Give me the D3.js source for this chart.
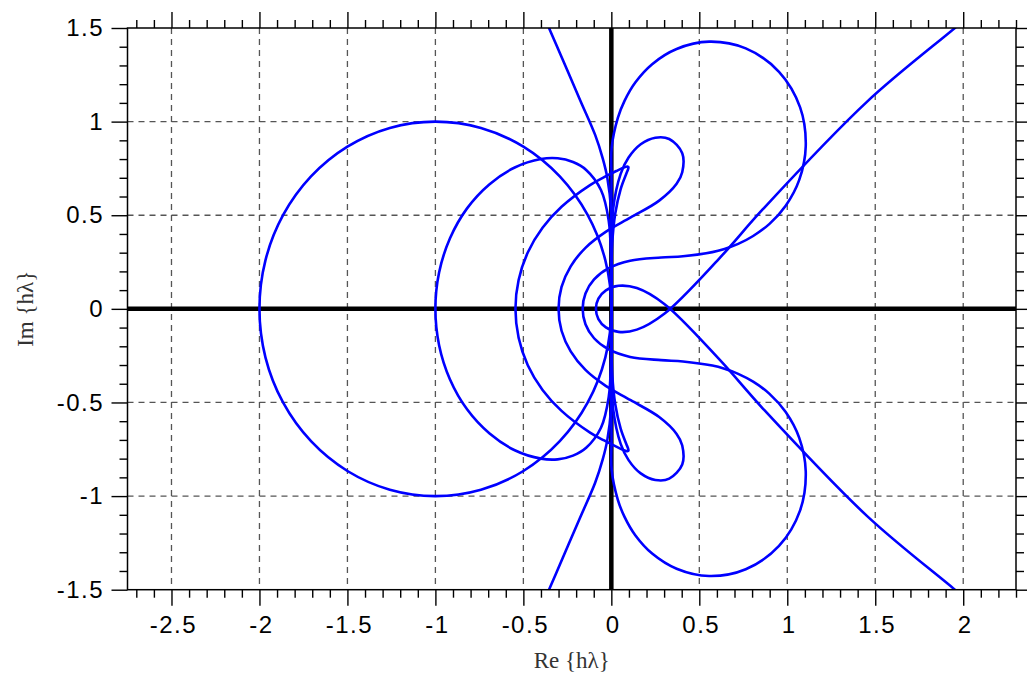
<!DOCTYPE html>
<html>
<head>
<meta charset="utf-8">
<script src="https://cdn.jsdelivr.net/npm/d3@7"></script>
<style>
    body { margin: 0; background: #fff; }
    svg { display: block; }
    .tick text { font-family: "Liberation Sans", Arial, sans-serif; font-size: 24px; letter-spacing: 1.5px; fill: #000; }
    .tick line { stroke: #000; stroke-width: 1.4; }
    .axis-title { font-family: "Liberation Serif", "Times New Roman", serif; font-size: 23px; fill: #333; }
</style>
</head>
<body>
<div id="chart"></div>
<script>

// tick labels
const xMajorTicks = [-2.5, -2, -1.5, -1, -0.5, 0, 0.5, 1, 1.5, 2];
const yMajorTicks = [-1.5, -1, -0.5, 0, 0.5, 1, 1.5];

// boundary loci, upper half only [Re, Im]; the lower half is the mirror image
const ab1Upper = [[0, 0], [-0.034, 0.259], [-0.134, 0.5], [-0.293, 0.707], [-0.5, 0.866], [-0.741, 0.966],
    [-1, 1], [-1.259, 0.966], [-1.5, 0.866], [-1.707, 0.707], [-1.866, 0.5], [-1.966, 0.259], [-2, 0]];

const ab2Upper = [[0, 0], [-0.0014, 0.2545], [-0.015, 0.472], [-0.059, 0.635], [-0.143, 0.742], [-0.218, 0.784],
    [-0.305, 0.804], [-0.4, 0.8], [-0.549, 0.755], [-0.692, 0.666], [-0.819, 0.538], [-0.917, 0.377],
    [-0.979, 0.194], [-1, 0]];

const ab3Upper = [[0, 0], [0.0003, 0.175], [0.005, 0.35], [0.022, 0.508], [0.053, 0.640], [0.085, 0.722],
    [0.095, 0.745], [0.097, 0.757], [0.091, 0.760], [0.077, 0.757], [0.028, 0.736], [-0.041, 0.703],
    [-0.121, 0.661], [-0.283, 0.545], [-0.391, 0.433], [-0.475, 0.301], [-0.527, 0.154], [-0.545, 0]];

const ab4Upper = [[0, 0], [0, 0.262], [0.010, 0.533], [0.053, 0.721], [0.098, 0.808], [0.167, 0.879],
    [0.25, 0.914], [0.329, 0.907], [0.403, 0.831], [0.403, 0.730], [0.371, 0.668], [0.272, 0.578],
    [0.110, 0.488], [-0.032, 0.411], [-0.147, 0.326], [-0.231, 0.227], [-0.283, 0.117], [-0.3, 0]];

const ab5Upper = [[0, 0], [0, 0.262], [0, 0.524], [0.001, 0.70], [0.002, 0.863], [0.037, 1.020],
    [0.075, 1.111], [0.136, 1.209], [0.232, 1.307], [0.371, 1.388], [0.556, 1.427], [0.764, 1.391],
    [0.953, 1.266], [1.073, 1.076], [1.105, 0.869], [1.068, 0.689], [0.991, 0.551], [0.899, 0.454],
    [0.806, 0.389], [0.721, 0.347], [0.643, 0.320], [0.574, 0.303], [0.407, 0.281], [0.283, 0.274],
    [0.107, 0.257], [-0.015, 0.217], [-0.098, 0.157], [-0.147, 0.082], [-0.163, 0]];

// AB6 leaves the window, so it is kept as two open branches
const ab6AxisBranch = [[0, 0], [0, 0.262], [-0.001, 0.524], [-0.023, 0.701], [-0.049, 0.804],
    [-0.092, 0.929], [-0.176, 1.112], [-0.316, 1.417], [-0.40, 1.60]];

const ab6LoopBranch = [[-0.0877, 0], [-0.0735, 0.0544], [-0.031, 0.099], [0.041, 0.123], [0.145, 0.111],
    [0.301, 0.026], [0.614, -0.270], [0.860, -0.531], [1.4525, -1.1056], [1.949, -1.497], [2.1, -1.616]];


const conj = d => [d[0], -d[1]];

// upper half + mirrored lower half, as one closed ring
function closedLocus(upper) {
    return upper.concat(upper.slice(0, -1).reverse().slice(0, -1).map(conj));
}

const curves = [
    {points: closedLocus(ab1Upper), closed: true},
    {points: closedLocus(ab2Upper), closed: true},
    {points: closedLocus(ab3Upper), closed: true},
    {points: closedLocus(ab4Upper), closed: true},
    {points: closedLocus(ab5Upper), closed: true},
    {points: ab6AxisBranch.slice().reverse().concat(ab6AxisBranch.slice(1).map(conj)), closed: false},
    {points: ab6LoopBranch.slice().reverse().map(conj).concat(ab6LoopBranch.slice(1)), closed: false}
];


const W = 1027, H = 682;
const plot = {left: 127.5, right: 1016, top: 28, bottom: 589.7};

const svg = d3.select("#chart").append("svg")
    .attr("width", W)
    .attr("height", H);

// scales
const x = d3.scaleLinear().domain([-2.75, 2.3]).range([plot.left, plot.right]);
const y = d3.scaleLinear().domain([-1.5, 1.5]).range([plot.bottom, plot.top]);

const xMinor = d3.range(-27, 24).map(d => d / 10).filter(d => !xMajorTicks.includes(d));
const yMinor = d3.range(-15, 16).map(d => d / 10).filter(d => !yMajorTicks.includes(d));

// grid
svg.append("g")
    .selectAll("line")
    .data(xMajorTicks)
    .join("line")
    .attr("x1", d => x(d)).attr("x2", d => x(d))
    .attr("y1", plot.top).attr("y2", plot.bottom)
    .attr("stroke", "#555").attr("stroke-width", 1.3).attr("stroke-dasharray", "6,5");

svg.append("g")
    .selectAll("line")
    .data(yMajorTicks.filter(d => Math.abs(d) < 1.5))
    .join("line")
    .attr("x1", plot.left).attr("x2", plot.right)
    .attr("y1", d => y(d)).attr("y2", d => y(d))
    .attr("stroke", "#555").attr("stroke-width", 1.3).attr("stroke-dasharray", "6,5");

// zero axes
svg.append("line")
    .attr("x1", plot.left).attr("x2", plot.right)
    .attr("y1", y(0)).attr("y2", y(0))
    .attr("stroke", "#000").attr("stroke-width", 4.5);
svg.append("line")
    .attr("x1", x(0)).attr("x2", x(0))
    .attr("y1", plot.top).attr("y2", plot.bottom)
    .attr("stroke", "#000").attr("stroke-width", 4.5);

// curves
svg.append("clipPath").attr("id", "plot-clip")
    .append("rect")
    .attr("x", plot.left).attr("y", plot.top)
    .attr("width", plot.right - plot.left).attr("height", plot.bottom - plot.top);

const lineOpen = d3.line()
    .x(d => x(d[0])).y(d => y(d[1]))
    .curve(d3.curveCatmullRom.alpha(0.5));
const lineClosed = d3.line()
    .x(d => x(d[0])).y(d => y(d[1]))
    .curve(d3.curveCatmullRomClosed.alpha(0.5));

svg.append("g")
    .attr("clip-path", "url(#plot-clip)")
    .selectAll("path")
    .data(curves)
    .join("path")
    .attr("d", d => d.closed ? lineClosed(d.points) : lineOpen(d.points))
    .attr("fill", "none")
    .attr("stroke", "#0000ff")
    .attr("stroke-width", 2.6)
    .attr("stroke-linejoin", "round");

// frame
svg.append("rect")
    .attr("x", plot.left).attr("y", plot.top)
    .attr("width", plot.right - plot.left).attr("height", plot.bottom - plot.top)
    .attr("fill", "none").attr("stroke", "#000").attr("stroke-width", 1.5);

// axes: minor and major ticks on all four sides
function addAxis(axis, transform) {
    const g = svg.append("g").attr("transform", transform).call(axis);
    g.select(".domain").remove();
    return g;
}

const fmt = d => String(d);

addAxis(d3.axisBottom(x).tickValues(xMinor).tickSize(8).tickFormat(""), "translate(0," + plot.bottom + ")");
addAxis(d3.axisBottom(x).tickValues(xMajorTicks).tickSize(16).tickPadding(10).tickFormat(fmt), "translate(0," + plot.bottom + ")")
    .selectAll("text").attr("dx", "0.06em");
addAxis(d3.axisTop(x).tickValues(xMinor).tickSize(8).tickFormat(""), "translate(0," + plot.top + ")");
addAxis(d3.axisTop(x).tickValues(xMajorTicks).tickSize(16).tickFormat(""), "translate(0," + plot.top + ")");

addAxis(d3.axisLeft(y).tickValues(yMinor).tickSize(8).tickFormat(""), "translate(" + plot.left + ",0)");
addAxis(d3.axisLeft(y).tickValues(yMajorTicks).tickSize(16).tickPadding(7.5).tickFormat(fmt), "translate(" + plot.left + ",0)");
addAxis(d3.axisRight(y).tickValues(yMinor).tickSize(8).tickFormat(""), "translate(" + plot.right + ",0)");
addAxis(d3.axisRight(y).tickValues(yMajorTicks).tickSize(16).tickFormat(""), "translate(" + plot.right + ",0)");

// axis titles
svg.append("text")
    .attr("class", "axis-title")
    .attr("x", (plot.left + plot.right) / 2)
    .attr("y", 668)
    .attr("text-anchor", "middle")
    .text("Re {hλ}");

svg.append("text")
    .attr("class", "axis-title")
    .attr("transform", "translate(33," + (plot.top + plot.bottom) / 2 + ") rotate(-90)")
    .attr("text-anchor", "middle")
    .text("Im {hλ}");

</script>
</body>
</html>
